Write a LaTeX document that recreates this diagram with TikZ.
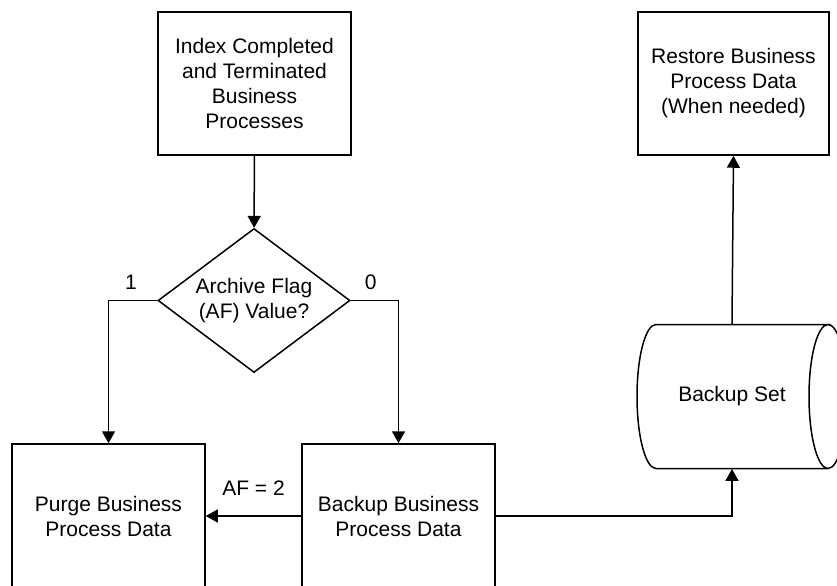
\documentclass[tikz,border=0pt]{standalone}
\usepackage{fontspec}
\setmainfont{Liberation Sans}
\usetikzlibrary{positioning, arrows.meta, shapes.geometric, calc}

\begin{document}
\begin{tikzpicture}[
    x=0.5pt, y=-0.5pt,
    every node/.style={font=\fontsize{10.5}{12.5}\selectfont},
    box/.style={draw, line width=0.75pt, align=center, inner sep=0pt, minimum width=96.5pt, minimum height=71.5pt},
    dec/.style={draw, diamond, line width=0.75pt, align=center, inner sep=0pt, minimum width=96pt, minimum height=72pt, aspect=1.333},
    lbl/.style={inner sep=0pt},
    arr/.style={-{Triangle[length=6pt, width=6.5pt]}, line width=0.75pt},
]
\useasboundingbox[fill=white] (0,0) rectangle (837,585);
\clip (0,0) rectangle (837,585);

% Archive path
\node[box] (index) at (254.5,83.5) {Index Completed\\and Terminated\\Business\\Processes};
\node[dec] (afval) at (254,300.5) {Archive Flag\\(AF) Value?};
\node[box, minimum height=72pt] (purge) at (108.5,516) {Purge Business\\Process Data};
\node[box, minimum height=72pt] (backup) at (398.5,516) {Backup Business\\Process Data};

% Backup set (cylinder) and restore
\node[inner sep=0pt, minimum height=72pt] (bset) at (732,396.5) {Backup Set};
\coordinate (cyl-nw) at ($(bset.center)+(-38pt,36pt)$);
\coordinate (cyl-ne) at ($(bset.center)+(48pt,36pt)$);
\coordinate (cyl-se) at ($(bset.center)+(48pt,-36pt)$);
\draw[line width=0.75pt] (cyl-ne) arc[start angle=90, end angle=-270, x radius=9.5pt, y radius=36pt]
    -- (cyl-nw) arc[start angle=90, end angle=270, x radius=9.5pt, y radius=36pt] -- (cyl-se);
\node[box, minimum width=95.5pt] (restore) at (733.5,83.5) {Restore Business\\Process Data\\(When needed)};

% Arrows
\draw[arr] (index) -- (afval);
\draw[arr] (afval.west) -| (purge.north) node[lbl, pos=0.27, above=5pt] {1};
\draw[arr] (afval.east) -| (backup.north) node[lbl, pos=0.21, above=5pt] {0};
\draw[arr] (backup.west) -- (purge.east) node[lbl, midway, above=10pt] {AF = 2};
\draw[arr] (backup.east) -| (bset.south);
\draw[arr] (bset.north) -- (restore.south);
\end{tikzpicture}
\end{document}
